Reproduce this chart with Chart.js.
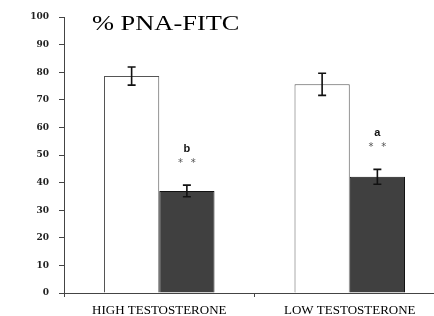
<!DOCTYPE html>
<html>
<head>
<meta charset="utf-8">
<script src="https://cdn.jsdelivr.net/npm/chart.js@4/dist/chart.umd.min.js"></script>
<style>
html,body{margin:0;padding:0;background:#fff;overflow:hidden;}
#wrap{width:434px;height:316px;overflow:hidden;position:relative;}
canvas{display:block;}
</style>
</head>
<body>
<div id="wrap"><canvas id="c" width="446" height="316"></canvas></div>
<script>
const categories = ['HIGH TESTOSTERONE', 'LOW TESTOSTERONE'];
const controlValues = [78.6, 75.6];
const controlErrors = [3.3, 4.0];
const treatedValues = [37.0, 42.1];
const treatedErrors = [2.1, 2.7];
const sigLetters = ['b', 'a'];
const sigStars = ['*', '*'];
const yTicks = [0, 10, 20, 30, 40, 50, 60, 70, 80, 90, 100];
const titleText = '% PNA-FITC';

const errorsByDataset = [controlErrors, treatedErrors];

const errorBarPlugin = {
  id: 'errorBars',
  afterDatasetsDraw(chart) {
    const ctx = chart.ctx;
    const ys = chart.scales.y;
    chart.data.datasets.forEach((ds, di) => {
      const meta = chart.getDatasetMeta(di);
      const errs = errorsByDataset[di];
      meta.data.forEach((el, i) => {
        const v = ds.data[i], e = errs[i];
        const x = el.x;
        const yt = ys.getPixelForValue(v + e);
        const yb = ys.getPixelForValue(v - e);
        ctx.save();
        ctx.strokeStyle = '#111';
        ctx.lineWidth = 1.6;
        ctx.beginPath();
        ctx.moveTo(x, yt); ctx.lineTo(x, yb);
        ctx.moveTo(x - 4, yt); ctx.lineTo(x + 4, yt);
        ctx.moveTo(x - 4, yb); ctx.lineTo(x + 4, yb);
        ctx.stroke();
        ctx.restore();
        if (di === 1) {
          ctx.save();
          ctx.textAlign = 'center';
          ctx.textBaseline = 'middle';
          ctx.fillStyle = '#555';
          ctx.font = '10px "DejaVu Sans"';
          ctx.fillText(sigStars[i], x - 6.3, yt - 22);
          ctx.fillText(sigStars[i], x + 6.3, yt - 22);
          ctx.fillStyle = '#111';
          ctx.font = 'bold 11px "Liberation Sans"';
          ctx.fillText(sigLetters[i], x, yt - 36);
          ctx.restore();
        }
      });
    });
  }
};

const titlePlugin = {
  id: 'insideTitle',
  afterDraw(chart) {
    const ctx = chart.ctx;
    ctx.save();
    ctx.fillStyle = '#000';
    ctx.font = '22px "Liberation Serif"';
    ctx.textBaseline = 'alphabetic';
    ctx.translate(92, 30);
    ctx.scale(1.2, 1);
    ctx.fillText(titleText, 0, 0);
    ctx.restore();
  }
};

new Chart(document.getElementById('c'), {
  type: 'bar',
  data: {
    labels: categories,
    datasets: [
      {
        label: 'Control',
        data: controlValues,
        backgroundColor: '#ffffff',
        borderColor: '#555555',
        borderWidth: 1,
        barPercentage: 1,
        categoryPercentage: 0.58
      },
      {
        label: 'Treated',
        data: treatedValues,
        backgroundColor: '#404040',
        borderColor: '#111111',
        borderWidth: 1,
        barPercentage: 1,
        categoryPercentage: 0.58
      }
    ]
  },
  options: {
    responsive: false,
    animation: false,
    layout: { padding: { left: 0, right: 1, top: 17, bottom: 0 } },
    plugins: { legend: { display: false }, tooltip: { enabled: false }, title: { display: false } },
    scales: {
      x: {
        grid: { display: true, drawOnChartArea: false, offset: true, tickLength: 4, color: '#444', lineWidth: 1 },
        border: { display: true, color: '#444', width: 1 },
        ticks: { color: '#000', font: { family: '"Liberation Serif"', size: 13 }, padding: 6, maxRotation: 0, autoSkip: false },
        afterFit(scale) { scale.height = 23; }
      },
      y: {
        min: 0, max: 100,
        afterBuildTicks(scale) { scale.ticks = yTicks.map(v => ({ value: v })); },
        grid: { display: true, drawOnChartArea: false, tickLength: 5, color: '#444', lineWidth: 1 },
        border: { display: true, color: '#444', width: 1 },
        ticks: { color: '#222', font: { family: '"DejaVu Serif"', size: 9, weight: 'bold' }, padding: 10 },
        afterFit(scale) { scale.width = 64; }
      }
    }
  },
  plugins: [errorBarPlugin, titlePlugin]
});
</script>
</body>
</html>
